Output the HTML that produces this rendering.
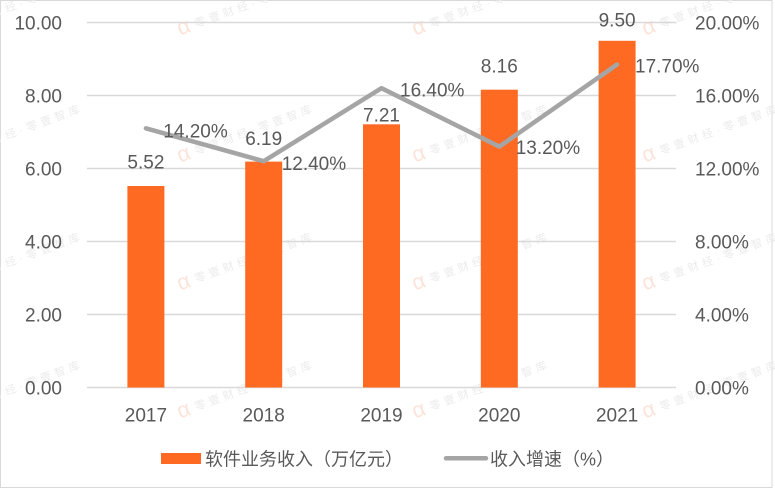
<!DOCTYPE html>
<html>
<head>
<meta charset="utf-8">
<style>
  html, body { margin: 0; padding: 0; background: #ffffff; }
  body { width: 775px; height: 489px; overflow: hidden; }
  svg { display: block; }
  text { font-family: "Liberation Sans", "Noto Sans CJK SC", sans-serif; fill: #595959; }
  .wm { font-size: 11px; fill: #ebebeb; letter-spacing: 4px; }
  .wa { font-size: 22px; fill: #fde3d9; }
</style>
</head>
<body>
<svg width="775" height="489" viewBox="0 0 775 489" xmlns="http://www.w3.org/2000/svg">
  <rect x="0" y="0" width="775" height="489" fill="#ffffff"/>
  <rect x="0.5" y="0.5" width="771.5" height="487" fill="none" stroke="#D9D9D9" stroke-width="1"/>

  <!-- watermarks -->
  <g>
    <g transform="translate(178,30) rotate(-20)"><text class="wa" x="0" y="6">α</text><text class="wm" x="18" y="4">零壹财经·零壹智库</text></g>
    <g transform="translate(413,30) rotate(-20)"><text class="wa" x="0" y="6">α</text><text class="wm" x="18" y="4">零壹财经·零壹智库</text></g>
    <g transform="translate(643,30) rotate(-20)"><text class="wa" x="0" y="6">α</text><text class="wm" x="18" y="4">零壹财经·零壹智库</text></g>
    <g transform="translate(-54,30) rotate(-20)"><text class="wa" x="0" y="6">α</text><text class="wm" x="18" y="4">零壹财经·零壹智库</text></g>
    <g transform="translate(178,157) rotate(-20)"><text class="wa" x="0" y="6">α</text><text class="wm" x="18" y="4">零壹财经·零壹智库</text></g>
    <g transform="translate(413,157) rotate(-20)"><text class="wa" x="0" y="6">α</text><text class="wm" x="18" y="4">零壹财经·零壹智库</text></g>
    <g transform="translate(643,157) rotate(-20)"><text class="wa" x="0" y="6">α</text><text class="wm" x="18" y="4">零壹财经·零壹智库</text></g>
    <g transform="translate(-54,157) rotate(-20)"><text class="wa" x="0" y="6">α</text><text class="wm" x="18" y="4">零壹财经·零壹智库</text></g>
    <g transform="translate(178,285) rotate(-20)"><text class="wa" x="0" y="6">α</text><text class="wm" x="18" y="4">零壹财经·零壹智库</text></g>
    <g transform="translate(413,285) rotate(-20)"><text class="wa" x="0" y="6">α</text><text class="wm" x="18" y="4">零壹财经·零壹智库</text></g>
    <g transform="translate(643,285) rotate(-20)"><text class="wa" x="0" y="6">α</text><text class="wm" x="18" y="4">零壹财经·零壹智库</text></g>
    <g transform="translate(-54,285) rotate(-20)"><text class="wa" x="0" y="6">α</text><text class="wm" x="18" y="4">零壹财经·零壹智库</text></g>
    <g transform="translate(178,413) rotate(-20)"><text class="wa" x="0" y="6">α</text><text class="wm" x="18" y="4">零壹财经·零壹智库</text></g>
    <g transform="translate(413,413) rotate(-20)"><text class="wa" x="0" y="6">α</text><text class="wm" x="18" y="4">零壹财经·零壹智库</text></g>
    <g transform="translate(643,413) rotate(-20)"><text class="wa" x="0" y="6">α</text><text class="wm" x="18" y="4">零壹财经·零壹智库</text></g>
    <g transform="translate(-54,413) rotate(-20)"><text class="wa" x="0" y="6">α</text><text class="wm" x="18" y="4">零壹财经·零壹智库</text></g>
  </g>

  <!-- gridlines -->
  <g stroke="#D9D9D9" stroke-width="1.5">
    <line x1="87" y1="22.5" x2="676" y2="22.5"/>
    <line x1="87" y1="95.5" x2="676" y2="95.5"/>
    <line x1="87" y1="168.5" x2="676" y2="168.5"/>
    <line x1="87" y1="241.5" x2="676" y2="241.5"/>
    <line x1="87" y1="314.5" x2="676" y2="314.5"/>
    <line x1="87" y1="387.5" x2="676" y2="387.5"/>
  </g>

  <!-- left axis labels -->
  <g font-size="19" text-anchor="end">
    <text x="62" y="29.3">10.00</text>
    <text x="62" y="102.3">8.00</text>
    <text x="62" y="175.3">6.00</text>
    <text x="62" y="248.3">4.00</text>
    <text x="62" y="321.3">2.00</text>
    <text x="62" y="394.3">0.00</text>
  </g>

  <!-- right axis labels -->
  <g font-size="19" text-anchor="start">
    <text x="695" y="29.3">20.00%</text>
    <text x="695" y="102.3">16.00%</text>
    <text x="695" y="175.3">12.00%</text>
    <text x="695" y="248.3">8.00%</text>
    <text x="695" y="321.3">4.00%</text>
    <text x="695" y="394.3">0.00%</text>
  </g>

  <!-- bars -->
  <g fill="#FF6A23">
    <rect x="127.4" y="186.0" width="37" height="201.5"/>
    <rect x="245.2" y="161.6" width="37" height="225.9"/>
    <rect x="363.0" y="124.3" width="37" height="263.2"/>
    <rect x="480.8" y="89.7" width="37" height="297.8"/>
    <rect x="598.6" y="40.8" width="37" height="346.7"/>
  </g>

  <!-- line -->
  <polyline points="145.9,128.3 263.7,161.2 381.5,88.2 499.3,146.6 617.1,64.5" fill="none" stroke="#A5A5A5" stroke-width="4.5" stroke-linejoin="round" stroke-linecap="round"/>

  <!-- bar data labels -->
  <g font-size="19" text-anchor="middle">
    <text x="145.9" y="168.3">5.52</text>
    <text x="263.7" y="145">6.19</text>
    <text x="381.5" y="121.7">7.21</text>
    <text x="499.3" y="72.3">8.16</text>
    <text x="617.1" y="26.7">9.50</text>
  </g>

  <!-- line data labels -->
  <g font-size="19" text-anchor="start">
    <text x="163.3" y="137.3">14.20%</text>
    <text x="281.7" y="170">12.40%</text>
    <text x="400" y="96.7">16.40%</text>
    <text x="515.7" y="154">13.20%</text>
    <text x="635" y="72.7">17.70%</text>
  </g>

  <!-- x axis labels -->
  <g font-size="19" text-anchor="middle">
    <text x="145.9" y="421.7">2017</text>
    <text x="263.7" y="421.7">2018</text>
    <text x="381.5" y="421.7">2019</text>
    <text x="499.3" y="421.7">2020</text>
    <text x="617.1" y="421.7">2021</text>
  </g>

  <!-- legend -->
  <rect x="161" y="453" width="40" height="11" fill="#FF6A23"/>
  <text x="205" y="465.5" font-size="18">软件业务收入（万亿元）</text>
  <line x1="446" y1="458.3" x2="486" y2="458.3" stroke="#A5A5A5" stroke-width="4.5" stroke-linecap="round"/>
  <text x="490" y="465.5" font-size="18">收入增速（%）</text>
</svg>
</body>
</html>
